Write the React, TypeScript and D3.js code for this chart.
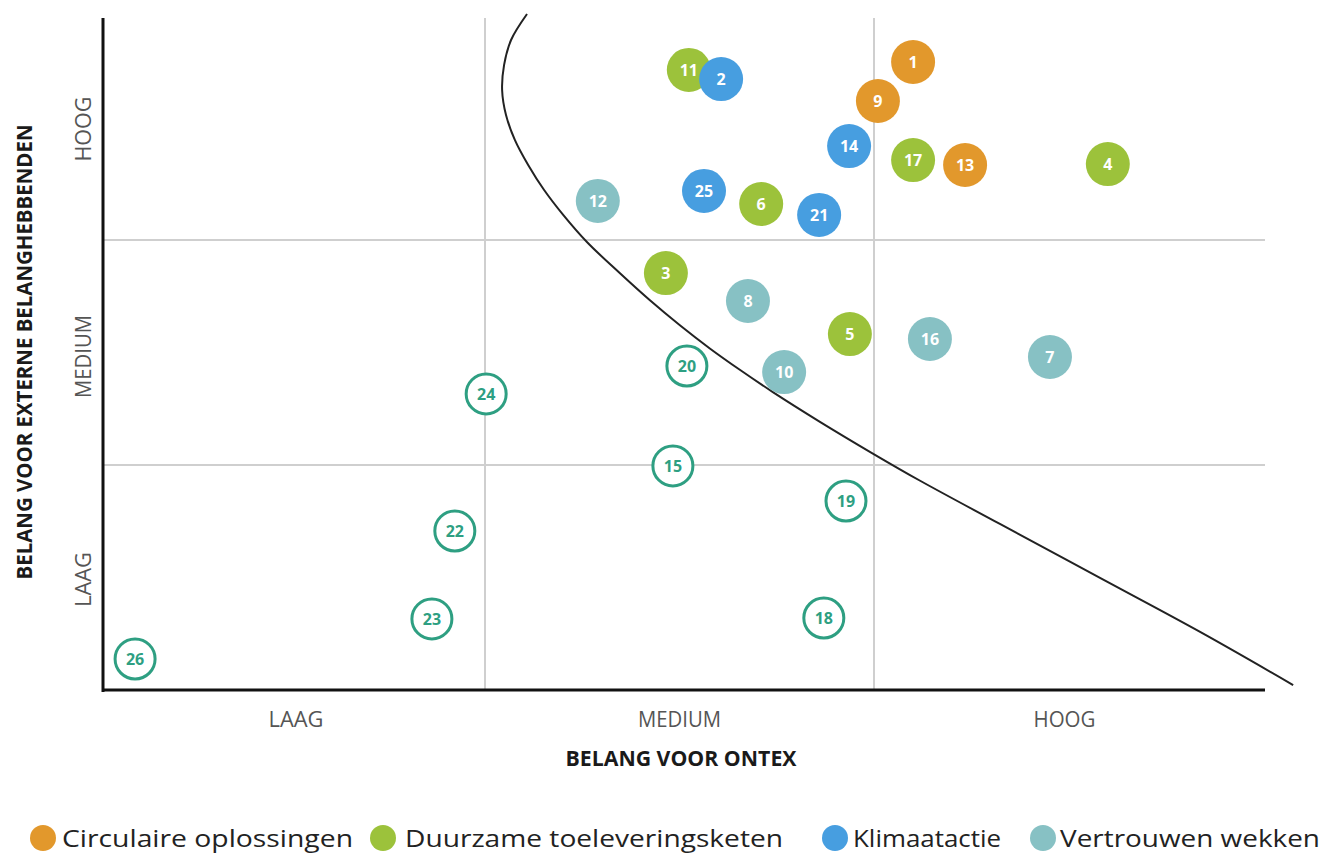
import React from "react";
import * as d3 from "d3";

const W = 1326;
const H = 858;

const levelLabels = ["LAAG", "MEDIUM", "HOOG"];
const categories = ["Circulaire oplossingen", "Duurzame toeleveringsketen", "Klimaatactie", "Vertrouwen wekken", "Overig"];
const categoryColors = ["#E2982C", "#9CC23B", "#479EE0", "#87C1C4", "#2E9F82"];

// id, x (Ontex), y (extern), category index (4 = outlined)
const pointIds = [1, 9, 17, 13, 11, 2, 14, 4, 25, 6, 21, 12, 3, 8, 5, 16, 7, 10, 20, 24, 15, 19, 22, 23, 18, 26];
const pointX = [2.100, 2.010, 2.100, 2.233, 1.524, 1.607, 1.936, 2.598, 1.563, 1.710, 1.859, 1.290, 1.465, 1.676, 1.938, 2.143, 2.450, 1.769, 1.519, 1.003, 1.483, 1.928, 0.921, 0.861, 1.871, 0.084];
const pointY = [2.802, 2.626, 2.360, 2.338, 2.766, 2.725, 2.423, 2.342, 2.221, 2.162, 2.113, 2.176, 1.853, 1.729, 1.582, 1.560, 1.480, 1.413, 1.440, 1.316, 0.996, 0.840, 0.707, 0.316, 0.320, 0.138];
const pointCat = [0, 0, 1, 0, 1, 2, 2, 1, 2, 1, 2, 3, 1, 3, 1, 3, 3, 3, 4, 4, 4, 4, 4, 4, 4, 4];

const curveX = [1.108, 1.067, 1.049, 1.044, 1.054, 1.077, 1.111, 1.152, 1.201, 1.262, 1.347, 1.424, 1.501, 1.578, 1.656, 1.740, 1.861, 1.997, 2.118, 2.322, 2.578, 2.834, 3.072];
const curveY = [3.018, 2.901, 2.788, 2.676, 2.563, 2.450, 2.338, 2.225, 2.113, 1.991, 1.852, 1.732, 1.621, 1.518, 1.422, 1.324, 1.192, 1.051, 0.930, 0.738, 0.498, 0.258, 0.022];

const FONT = "'Open Sans', 'Noto Sans', sans-serif";

export default function App() {
  const x = d3.scaleLinear().domain([0, 1, 2, 3]).range([103, 485, 874, 1265]);
  const y = d3.scaleLinear().domain([0, 1, 2, 3]).range([690, 465, 240, 18]);
  const R = 22;

  const line = d3
    .line<number>()
    .x((_, i) => x(curveX[i]))
    .y((_, i) => y(curveY[i]))
    .curve(d3.curveCatmullRom.alpha(0.5));

  const legendX = [43, 383, 835, 1043];
  const legendTextX = [62, 405, 853, 1060];
  const legendW = [291, 378, 148, 260];
  const xLabelOffset = [2, 0, -5];

  return (
    <svg width={W} height={H} style={{ position: "absolute", left: 0, top: 0, background: "#fff" }}>
      <rect x={0} y={0} width={W} height={H} fill="#fff" />
      {/* grid */}
      {[1, 2].map((v) => (
        <line key={"gx" + v} x1={x(v)} x2={x(v)} y1={y(3)} y2={y(0)} stroke="#cfcfcf" strokeWidth={2} />
      ))}
      {[1, 2].map((v) => (
        <line key={"gy" + v} x1={x(0)} x2={x(3)} y1={y(v)} y2={y(v)} stroke="#cfcfcf" strokeWidth={2} />
      ))}
      {/* axes */}
      <line x1={x(0)} x2={x(0)} y1={y(3)} y2={y(0) + 2} stroke="#111" strokeWidth={3} />
      <line x1={x(0) - 1} x2={x(3)} y1={y(0)} y2={y(0)} stroke="#111" strokeWidth={3} />
      {/* curve */}
      <path d={line(curveX) || ""} fill="none" stroke="#222" strokeWidth={2} />
      {/* x tick labels */}
      {levelLabels.map((l, i) => (
        <text
          key={"xl" + l}
          x={x(i + 0.5) + xLabelOffset[i]}
          y={727}
          textAnchor="middle"
          fontFamily={FONT}
          fontSize={22}
          fill="#555"
          textLength={[55, 83, 62][i]}
          lengthAdjust="spacingAndGlyphs"
        >
          {l}
        </text>
      ))}
      <text
        x={681}
        y={766}
        textAnchor="middle"
        fontFamily={FONT}
        fontSize={21}
        fontWeight={700}
        fill="#1a1a1a"
        textLength={231}
        lengthAdjust="spacingAndGlyphs"
      >
        BELANG VOOR ONTEX
      </text>
      {/* y tick labels */}
      {levelLabels.map((l, i) => (
        <text
          key={"yl" + l}
          transform={`translate(91,${y(i + 0.5) + [2, 4, 0][i]}) rotate(-90)`}
          textAnchor="middle"
          fontFamily={FONT}
          fontSize={22}
          fill="#555"
          textLength={[55, 83, 65][i]}
          lengthAdjust="spacingAndGlyphs"
        >
          {l}
        </text>
      ))}
      <text
        transform={`translate(32,352) rotate(-90)`}
        textAnchor="middle"
        fontFamily={FONT}
        fontSize={21}
        fontWeight={700}
        fill="#1a1a1a"
        textLength={455}
        lengthAdjust="spacingAndGlyphs"
      >
        BELANG VOOR EXTERNE BELANGHEBBENDEN
      </text>
      {/* points */}
      {pointIds.map((id, i) => {
        const c = pointCat[i];
        const cx = x(pointX[i]);
        const cy = y(pointY[i]);
        const outlined = c === 4;
        return (
          <g key={"p" + id}>
            <circle
              cx={cx}
              cy={cy}
              r={outlined ? 20 : R}
              fill={outlined ? "#fff" : categoryColors[c]}
              stroke={outlined ? categoryColors[c] : "none"}
              strokeWidth={outlined ? 3 : 0}
            />
            <text
              x={cx}
              y={cy + 6}
              textAnchor="middle"
              fontFamily={FONT}
              fontWeight={700}
              fontSize={16}
              fill={outlined ? categoryColors[c] : "#fff"}
            >
              {id}
            </text>
          </g>
        );
      })}
      {/* legend */}
      {categories.slice(0, 4).map((name, i) => (
        <g key={"lg" + name}>
          <circle cx={legendX[i]} cy={838} r={13} fill={categoryColors[i]} />
          <text
            x={legendTextX[i]}
            y={847}
            fontFamily={FONT}
            fontSize={24}
            fill="#222"
            textLength={legendW[i]}
            lengthAdjust="spacingAndGlyphs"
          >
            {name}
          </text>
        </g>
      ))}
    </svg>
  );
}
